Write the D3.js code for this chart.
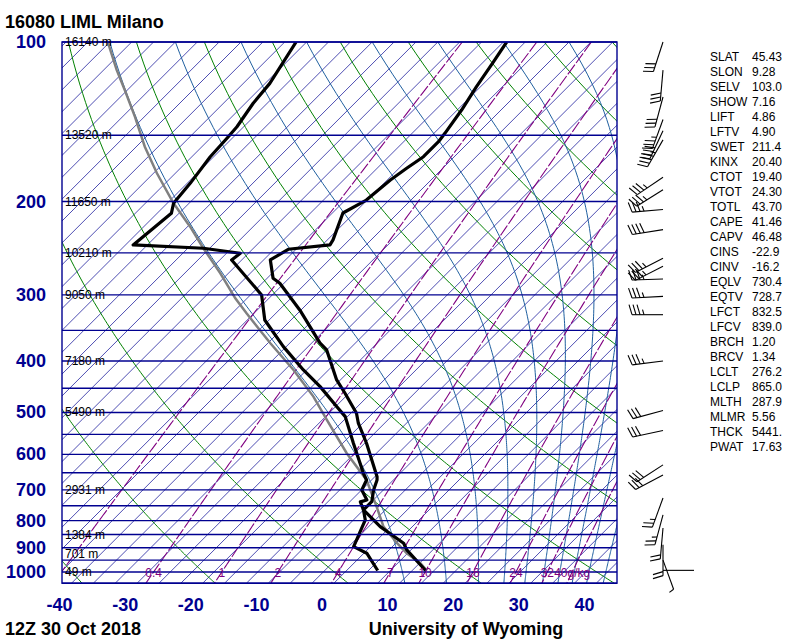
<!DOCTYPE html>
<html><head><meta charset="utf-8">
<script src="https://cdn.jsdelivr.net/npm/d3@7"></script>
<style>body{margin:0;background:#fff}svg{display:block}</style>
</head><body>
<svg id="c" width="800" height="640"></svg>
<script>
// ---------------- data ----------------
const title = "16080 LIML Milano";
const dateLabel = "12Z 30 Oct 2018";
const credit = "University of Wyoming";
const pressureLabels = [100,200,300,400,500,600,700,800,900,1000];
const isobarLevels = [100,150,200,250,300,350,400,450,500,550,600,650,700,750,800,850,900,950,1000,1050];
const tempTicks = [-40,-30,-20,-10,0,10,20,30,40];
const heightP = [100,150,200,250,300,400,500,700,850,925,1000];
const heightLbl = ["16140 m","13520 m","11650 m","10210 m","9050 m","7180 m","5490 m","2931 m","1384 m","701 m","49 m"];
const mixRatios = [0.1,0.4,1,2,4,7,10,16,24,32,40];
const mixLabels = ["","0.4","1","2","4","7","10","16","24","32","40g/kg"];
const dryThetaC = [-40,-20,0,20,40,60,80,100,120,140,160,180];
const moistTopT = [-115,-105,-95,-85,-75,-65,-55,-45,-35,-25,-15];

// temperature profile
const tempP = [100,108.9,121.4,134.4,148.7,154.2,164.6,173.1,182.1,198.7,210.2,236.3,241.5,246.1,257.8,279.1,285.3,320.3,369.7,381.1,434.2,460,501.8,524,571.6,660.9,670.5,700.2,736.7,763.7,821.2,882.6,908.7,993.6];
const tempT = [-54.5,-53.5,-52.3,-51.0,-50.0,-49.7,-49.7,-50.5,-51.2,-51.8,-53.4,-50.8,-50.5,-56.2,-57.3,-54.1,-52.3,-45.2,-37.1,-35.0,-28.9,-25.6,-20.8,-19.0,-14.7,-8.0,-7.5,-6.5,-5.0,-5.0,0.1,6.2,7.7,13.7];
// dewpoint profile
const dewP = [100,119.7,130.5,144.5,150.9,164.6,184.8,201.5,210.5,241.5,245,250.4,257.8,300.1,334.6,375.7,415.7,447,487.6,509.2,571.6,651.2,670.5,700.2,731.3,737.5,763.7,797.6,895.8,921.8,993.6];
const dewT = [-86.6,-84.3,-83.8,-82.7,-82.5,-82.2,-81.2,-80.7,-79.5,-80.5,-69.3,-62.9,-63.2,-53.3,-49.0,-42.1,-35.5,-30.4,-24.8,-22.0,-16.7,-10.6,-9.1,-8.3,-6.0,-6.7,-5.0,-3.2,-0.9,2.1,6.4];
// parcel path
const parcelP = [100,112.9,123.2,138.3,157.6,176.9,201.5,223.1,245,273.1,304.5,325,370.2,415.7,466.8,516.6,596.9,670.5,752.9,821.2,882.6,921.8,962.7,993.6];
const parcelT = [-115.3,-109.7,-105.4,-99.8,-93.7,-87.8,-80.7,-74.6,-69.3,-62.9,-56.8,-52.8,-44.6,-37.0,-29.9,-24.3,-16.2,-9.1,-3.5,0.6,5.2,8.2,11.8,13.9];

// winds (pressure hPa, direction deg, speed kt)
const windP   = [100,113,127,140,147,153,180,190,207,226,256,265,280,302,327,400,496,541,628,656,725,780,826,888,950,993];
const windDir = [198,185,195,200,205,210,236,238,265,261,243,243,268,267,270,263,255,258,237,242,200,195,185,180,160,90];
const windSpd = [30,30,30,35,40,45,35,35,35,40,35,35,35,35,35,35,30,30,30,30,25,25,20,20,5,0];

const statNames = ["SLAT","SLON","SELV","SHOW","LIFT","LFTV","SWET","KINX","CTOT","VTOT","TOTL","CAPE","CAPV","CINS","CINV","EQLV","EQTV","LFCT","LFCV","BRCH","BRCV","LCLT","LCLP","MLTH","MLMR","THCK","PWAT"];
const statValues = ["45.43","9.28","103.0","7.16","4.86","4.90","211.4","20.40","19.40","24.30","43.70","41.46","46.48","-22.9","-16.2","730.4","728.7","832.5","839.0","1.20","1.34","276.2","865.0","287.9","5.56","5441.","17.63"];

// ---------------- geometry ----------------
const svg = d3.select("#c");
const L = 62, R = 617, TOP = 42, BOT = 583.2;
const yS = d3.scaleLog().domain([100,1050]).range([TOP,BOT]);
const xS = d3.scaleLinear().domain([-40,40]).range([60.6,585.4]);
const X = (T,p) => xS(T) + (BOT - yS(p));
const NAVY = "#000090", GREEN = "#008000", MOIST = "#1f5f9f", PURPLE = "#800080";

svg.append("defs").append("clipPath").attr("id","clip")
  .append("rect").attr("x",L).attr("y",TOP).attr("width",R-L).attr("height",BOT-TOP);
const plot = svg.append("g").attr("clip-path","url(#clip)");
const line = d3.line().x(d=>X(d[1],d[0])).y(d=>yS(d[0]));

const es = Tc => 6.112*Math.exp(17.67*Tc/(Tc+243.5));
const pLevels = d3.range(100,1051,5);

// isotherms
for (let T=-125; T<=50; T+=10/3) {
  plot.append("path").attr("d", line([[1050,T],[100,T]]))
    .attr("stroke",NAVY).attr("stroke-width",0.7).attr("fill","none");
}
// dry adiabats
dryThetaC.forEach(th => {
  const pts = pLevels.map(p => [p, (th+273.15)*Math.pow(p/1000,0.2857)-273.15]);
  plot.append("path").attr("d", line(pts)).attr("stroke",GREEN).attr("stroke-width",1).attr("fill","none");
});
// moist (pseudo) adiabats, integrated downward from 100 hPa
function dTdp(Tk,p){
  const Tc=Tk-273.15, e=es(Tc), r=0.622*e/(p-e);
  const Lv=2.501e6, Rd=287.04, Cp=1005.7;
  return (Rd*Tk + Lv*r)/(Cp + Lv*Lv*r*0.622/(Rd*Tk*Tk))/p;
}
moistTopT.forEach(T0 => {
  let Tk=T0+273.15, p=100; const pts=[[p,T0]]; const dp=1;
  while (p<1050) {
    const k1=dTdp(Tk,p), k2=dTdp(Tk+k1*dp,p+dp);
    Tk += 0.5*(k1+k2)*dp; p += dp; if (p%5===0) pts.push([p,Tk-273.15]);
  }
  plot.append("path").attr("d", line(pts)).attr("stroke",MOIST).attr("stroke-width",1).attr("fill","none");
});
// mixing ratio lines
const mrT = (w,p) => { const e=w/1000*p/(0.622+w/1000); const a=Math.log(e/6.112); return 243.5*a/(17.67-a); };
mixRatios.forEach(w => {
  const pts = pLevels.map(p => [p, mrT(w,p)]);
  plot.append("path").attr("d", line(pts)).attr("stroke",PURPLE).attr("stroke-width",1.1)
    .attr("stroke-dasharray","12,2").attr("fill","none");
});
// isobars
isobarLevels.forEach(p => {
  svg.append("line").attr("x1",L).attr("x2",R).attr("y1",yS(p)).attr("y2",yS(p))
    .attr("stroke",NAVY).attr("stroke-width",1.4);
});
svg.append("rect").attr("x",L).attr("y",TOP).attr("width",R-L).attr("height",BOT-TOP)
  .attr("fill","none").attr("stroke",NAVY).attr("stroke-width",1.4);

const sans = "Liberation Sans, Arial, Helvetica, sans-serif";
// mixing ratio labels
mixRatios.forEach((w,i) => {
  if (!mixLabels[i]) return;
  svg.append("text").attr("x",X(mrT(w,1000),1000)).attr("y",yS(1000)+5)
    .attr("text-anchor","middle").attr("font-family",sans)
    .attr("font-size",12).attr("fill",PURPLE).text(mixLabels[i]);
});
// height labels
heightP.forEach((p,i) => {
  svg.append("text").attr("x",65).attr("y",yS(p)+4).attr("font-family",sans)
    .attr("font-size",12).attr("fill","#000").text(heightLbl[i]);
});

// profiles
const zip = (a,b) => a.map((v,i)=>[v,b[i]]);
plot.append("path").attr("d", line(zip(parcelP,parcelT))).attr("stroke","#808080").attr("stroke-width",2.5).attr("fill","none");
plot.append("path").attr("d", line(zip(dewP,dewT))).attr("stroke","#000").attr("stroke-width",3.2).attr("fill","none").attr("stroke-linejoin","round");
plot.append("path").attr("d", line(zip(tempP,tempT))).attr("stroke","#000").attr("stroke-width",3.2).attr("fill","none").attr("stroke-linejoin","round");

// axes labels
pressureLabels.forEach(p => {
  svg.append("text").attr("x",46).attr("y",yS(p)+6).attr("text-anchor","end")
    .attr("font-family",sans).attr("font-weight","bold").attr("font-size",18).attr("fill",NAVY).text(p);
});
tempTicks.forEach(t => {
  svg.append("text").attr("x",xS(t)-1).attr("y",611).attr("text-anchor","middle")
    .attr("font-family",sans).attr("font-weight","bold").attr("font-size",18).attr("fill",NAVY).text(t);
});
svg.append("text").attr("x",5).attr("y",28).attr("font-family",sans).attr("font-weight","bold").attr("font-size",18).text(title);
svg.append("text").attr("x",5).attr("y",635).attr("font-family",sans).attr("font-weight","bold").attr("font-size",18).text(dateLabel);
svg.append("text").attr("x",466).attr("y",635).attr("text-anchor","middle").attr("font-family",sans).attr("font-weight","bold").attr("font-size",18).text(credit);

// stats
statNames.forEach((n,i) => {
  const y = 61 + i*15;
  svg.append("text").attr("x",710).attr("y",y).attr("font-family",sans).attr("font-size",12).text(n);
  svg.append("text").attr("x",752).attr("y",y).attr("font-family",sans).attr("font-size",12).text(statValues[i]);
});

// wind barbs
const BX = 663, STAFF = 31;
windP.forEach((p,i) => {
  const by = yS(p), d = windDir[i]*Math.PI/180;
  const sx = Math.sin(d), sy = -Math.cos(d);
  const px = -sy, py = sx;
  const g = svg.append("g").attr("stroke","#000").attr("stroke-width",1.1).attr("fill","none");
  const tx = BX + sx*STAFF, ty = by + sy*STAFF;
  g.append("line").attr("x1",BX).attr("y1",by).attr("x2",tx).attr("y2",ty);
  let spd = Math.round(windSpd[i]/5)*5, pos = 0;
  while (spd >= 10) {
    const ax = BX + sx*(STAFF-pos), ay = by + sy*(STAFF-pos);
    g.append("line").attr("x1",ax).attr("y1",ay).attr("x2",ax+px*10+sx*3).attr("y2",ay+py*10+sy*3);
    spd -= 10; pos += 4;
  }
  if (spd >= 5) {
    const ax = BX + sx*(STAFF-pos), ay = by + sy*(STAFF-pos);
    g.append("line").attr("x1",ax).attr("y1",ay).attr("x2",ax+px*5+sx*1.5).attr("y2",ay+py*5+sy*1.5);
  }
});
</script>
</body></html>
